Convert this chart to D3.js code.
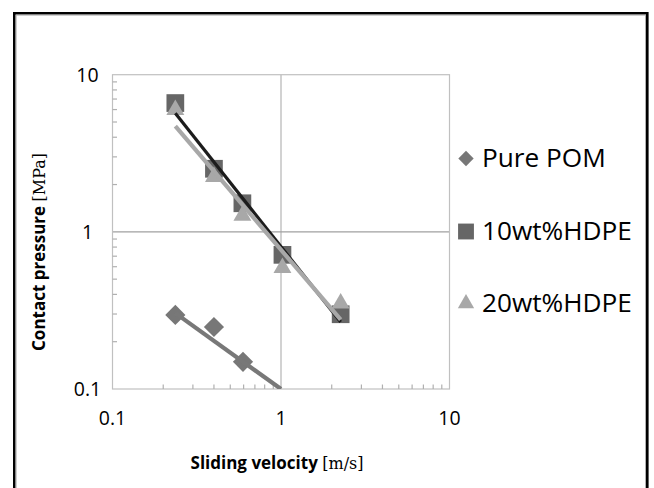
<!DOCTYPE html>
<html>
<head>
<meta charset="utf-8">
<script src="https://cdn.jsdelivr.net/npm/d3@7"></script>
<style>
  html, body { margin: 0; padding: 0; background: #fff; }
  svg { display: block; }
</style>
</head>
<body>
<svg id="chart" width="654" height="488"></svg>
<script>
// ---- data ----
const seriesNames = ["Pure POM", "10wt%HDPE", "20wt%HDPE"];
const pomVelocity = [0.236, 0.40, 0.595];
const pomPressure = [0.296, 0.248, 0.149];
const hdpe10Velocity = [0.236, 0.40, 0.59, 1.02, 2.26];
const hdpe10Pressure = [6.6, 2.52, 1.52, 0.714, 0.299];
const hdpe20Velocity = [0.236, 0.40, 0.59, 1.02, 2.26];
const hdpe20Pressure = [5.98, 2.24, 1.27, 0.59, 0.351];
// power trendlines y = a * x^b
const trendCoef = [0.1, 0.805, 0.769];
const trendExp = [-0.77, -1.354, -1.255];
const trendFrom = [0.236, 0.236, 0.236];
const trendTo = [1, 2.26, 2.26];
const xTickValues = [0.1, 1, 10];
const xTickLabels = ["0.1", "1", "10"];
const yTickValues = [0.1, 1, 10];
const yTickLabels = ["0.1", "1", "10"];
const xTitle = "Sliding velocity";
const xUnit = "[m/s]";
const yTitle = "Contact pressure";
const yUnit = "[MPa]";

// ---- layout ----
const plot = { left: 112.5, right: 449.5, top: 74.7, bottom: 389 };
const svg = d3.select("#chart");

const x = d3.scaleLog().domain([0.1, 10]).range([plot.left, plot.right]);
const y = d3.scaleLog().domain([0.1, 10]).range([plot.bottom, plot.top]);

// outer frame
svg.append("rect").attr("x", 14.3).attr("y", 13.3).attr("width", 633).attr("height", 500)
  .attr("fill", "none").attr("stroke", "#000").attr("stroke-width", 2.6);
svg.append("rect").attr("x", 16.1).attr("y", 15.1).attr("width", 629.4).attr("height", 500)
  .attr("fill", "none").attr("stroke", "#b0b0b0").attr("stroke-width", 1);

const defs = svg.append("defs");
defs.append("clipPath").attr("id", "plotClip").append("rect")
  .attr("x", plot.left).attr("y", plot.top)
  .attr("width", plot.right - plot.left).attr("height", plot.bottom - plot.top);

const g = svg.append("g");

// gridlines at major interior ticks
g.selectAll("line.gx").data(xTickValues.slice(1, -1)).join("line")
  .attr("x1", d => x(d)).attr("x2", d => x(d))
  .attr("y1", plot.top).attr("y2", plot.bottom)
  .attr("stroke", "#b4b4b4").attr("stroke-width", 1.2);
g.selectAll("line.gy").data(yTickValues.slice(1, -1)).join("line")
  .attr("x1", plot.left).attr("x2", plot.right)
  .attr("y1", d => y(d)).attr("y2", d => y(d))
  .attr("stroke", "#a0a0a0").attr("stroke-width", 1.2);

// plot frame
g.append("rect").attr("x", plot.left).attr("y", plot.top)
  .attr("width", plot.right - plot.left).attr("height", plot.bottom - plot.top)
  .attr("fill", "none").attr("stroke", "#c0c0c0").attr("stroke-width", 1.2);

// minor ticks (inside)
const minorX = [];
const minorY = [];
[0.1, 1].forEach(dec => { for (let k = 2; k <= 9; k++) { minorX.push(dec * k); minorY.push(dec * k); } });
g.selectAll("line.mx").data(minorX).join("line")
  .attr("x1", d => x(d)).attr("x2", d => x(d))
  .attr("y1", plot.bottom).attr("y2", plot.bottom - 4.5)
  .attr("stroke", "#b0b0b0").attr("stroke-width", 1.2);
g.selectAll("line.my").data(minorY).join("line")
  .attr("x1", plot.left).attr("x2", plot.left + 4.5)
  .attr("y1", d => y(d)).attr("y2", d => y(d))
  .attr("stroke", "#b0b0b0").attr("stroke-width", 1.2);

// tick labels
const tickFont = "'Open Sans', sans-serif";
g.selectAll("text.xl").data(xTickValues).join("text")
  .attr("x", d => x(d)).attr("y", 425)
  .attr("text-anchor", "middle")
  .attr("font-family", tickFont).attr("font-size", 19.5).attr("fill", "#000")
  .text((d, i) => xTickLabels[i]);
g.selectAll("text.yl").data(yTickValues).join("text")
  .attr("x", 87.5).attr("y", d => y(d) + 7)
  .attr("text-anchor", "middle")
  .attr("font-family", tickFont).attr("font-size", 19.5).attr("fill", "#000")
  .text((d, i) => yTickLabels[i]);

// axis titles
const xt = svg.append("text").attr("x", 277).attr("y", 469)
  .attr("text-anchor", "middle").attr("fill", "#000");
xt.append("tspan").attr("font-family", "'Open Sans', sans-serif").attr("font-weight", "bold")
  .attr("font-size", 17).text(xTitle + " ");
xt.append("tspan").attr("font-family", "'DejaVu Serif', serif").attr("font-size", 16).text(xUnit);

const yt = svg.append("text").attr("transform", "translate(45,252) rotate(-90)")
  .attr("text-anchor", "middle").attr("fill", "#000");
yt.append("tspan").attr("font-family", "'Open Sans', sans-serif").attr("font-weight", "bold")
  .attr("font-size", 17).text(yTitle + " ");
yt.append("tspan").attr("font-family", "'DejaVu Serif', serif").attr("font-size", 16).text(yUnit);

// series definitions
const series = [
  { name: seriesNames[0], xs: pomVelocity, ys: pomPressure, color: "#777777",
    symbol: d3.symbolDiamond2, size: 260, trendColor: "#787878", trendWidth: 4.2 },
  { name: seriesNames[1], xs: hdpe10Velocity, ys: hdpe10Pressure, color: "#666666",
    symbol: d3.symbolSquare2, size: 400, trendColor: "#1c1c1c", trendWidth: 3.2 },
  { name: seriesNames[2], xs: hdpe20Velocity, ys: hdpe20Pressure, color: "#a8a8a8",
    symbol: d3.symbolTriangle2, size: 230, trendColor: "#a8a8a8", trendWidth: 4.2 }
];

// markers
series.forEach(s => {
  const pts = s.xs.map((v, i) => [v, s.ys[i]]);
  g.append("g").selectAll("path").data(pts).join("path")
    .attr("transform", d => `translate(${x(d[0])},${y(d[1])})`)
    .attr("d", d3.symbol().type(s.symbol).size(s.size)())
    .attr("fill", s.color);
});

// power trendlines
const tg = svg.append("g").attr("clip-path", "url(#plotClip)");
series.forEach((s, i) => {
  const f = v => trendCoef[i] * Math.pow(v, trendExp[i]);
  const x0 = trendFrom[i], x1 = trendTo[i];
  tg.append("line")
    .attr("x1", x(x0)).attr("y1", y(f(x0)))
    .attr("x2", x(x1)).attr("y2", y(f(x1)))
    .attr("stroke", s.trendColor).attr("stroke-width", s.trendWidth);
});

// legend
const legendY = [158.5, 231.5, 303.5];
const legendSizes = [150, 320, 190];
const lg = svg.append("g");
series.forEach((s, i) => {
  lg.append("path")
    .attr("transform", `translate(466,${legendY[i]})`)
    .attr("d", d3.symbol().type(s.symbol).size(legendSizes[i])())
    .attr("fill", s.color);
  lg.append("text").attr("x", 482).attr("y", legendY[i] + 8.5)
    .attr("font-family", "'Open Sans', sans-serif").attr("font-size", 26.2).attr("fill", "#000")
    .text(s.name);
});
</script>
</body>
</html>
